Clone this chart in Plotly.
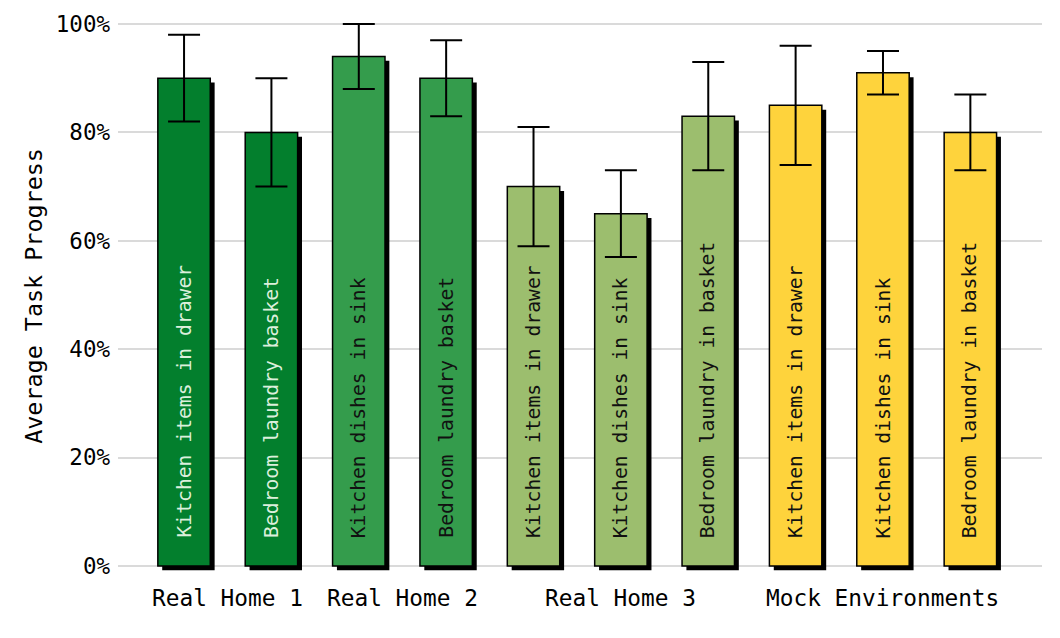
import plotly.graph_objects as go

FONT = "DejaVu Sans Mono, Liberation Mono, monospace"

# data
tasks = ["Kitchen items in drawer", "Bedroom laundry basket",
         "Kitchen dishes in sink", "Bedroom laundry basket",
         "Kitchen items in drawer", "Kitchen dishes in sink", "Bedroom laundry in basket",
         "Kitchen items in drawer", "Kitchen dishes in sink", "Bedroom laundry in basket"]
progress = [90, 80, 94, 90, 70, 65, 83, 85, 91, 80]
err_hi = [98, 90, 100, 97, 81, 73, 93, 96, 95, 87]
err_lo = [82, 70, 88, 83, 59, 57, 73, 74, 87, 73]
groups = ["Real Home 1", "Real Home 2", "Real Home 3", "Mock Environments"]
group_members = [[0, 1], [2, 3], [4, 5, 6], [7, 8, 9]]
group_colors = ["#037F2D", "#349C4C", "#9CBE6E", "#FED33C"]
group_text_colors = ["#DCEFDC", "#111111", "#111111", "#111111"]
y_ticks = [0, 20, 40, 60, 80, 100]

pos = list(range(len(progress)))
bar_colors, text_colors = [], []
for g, members in enumerate(group_members):
    for _ in members:
        bar_colors.append(group_colors[g])
        text_colors.append(group_text_colors[g])

plus = [h - v for h, v in zip(err_hi, progress)]
minus = [v - l for l, v in zip(err_lo, progress)]

fig = go.Figure()

# drop shadow
fig.add_trace(go.Bar(
    x=[p + 0.05 for p in pos], y=progress, base=-0.8, width=0.6,
    marker=dict(color="black", line=dict(width=0)),
    cliponaxis=False, hoverinfo="skip", showlegend=False,
))

fig.add_trace(go.Bar(
    x=pos, y=progress, width=0.6,
    marker=dict(color=bar_colors, line=dict(color="black", width=1.5)),
    error_y=dict(type="data", array=plus, arrayminus=minus, symmetric=False,
                 color="black", thickness=2, width=16),
    cliponaxis=False, showlegend=False,
))

for p, t, c in zip(pos, tasks, text_colors):
    fig.add_annotation(x=p, y=4.8, text=t, textangle=-90, showarrow=False,
                       xanchor="center", yanchor="bottom",
                       font=dict(family=FONT, size=19.7, color=c))

for name, members in zip(groups, group_members):
    fig.add_annotation(x=sum(members) / len(members), xref="x",
                       y=-0.047, yref="paper", text=name,
                       showarrow=False, xanchor="center", yanchor="middle",
                       font=dict(family=FONT, size=22.8, color="black"))

fig.update_layout(
    width=1060, height=638,
    margin=dict(l=110, r=26, t=12, b=74),
    barmode="overlay",
    plot_bgcolor="white", paper_bgcolor="white",
    font=dict(family=FONT, size=22, color="black"),
    xaxis=dict(range=[-0.756, 9.82], showticklabels=False, showgrid=False,
               zeroline=False, showline=False, ticks="", automargin=False),
    yaxis=dict(range=[-1.107, 100.74], tickvals=y_ticks,
               ticktext=[f"{v}%" for v in y_ticks], automargin=False,
               ticklabelstandoff=7, tickfont=dict(size=22.5),
               showgrid=True, gridcolor="#DADADA", gridwidth=1.5,
               zeroline=False, showline=False, ticks="",
               title=dict(text="Average Task Progress", standoff=6,
                          font=dict(family=FONT, size=23.4))),
)

fig.write_html("out.html")
